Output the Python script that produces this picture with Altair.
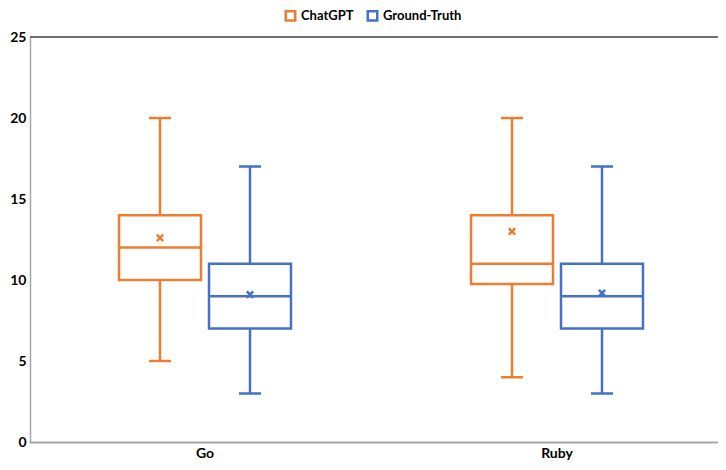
import altair as alt
import pandas as pd

languages = ["Go", "Go", "Ruby", "Ruby"]
models = ["ChatGPT", "Ground-Truth", "ChatGPT", "Ground-Truth"]
mins = [5, 3, 4, 3]
q1s = [10, 7, 9.75, 7]
medians = [12, 9, 11, 9]
q3s = [14, 11, 14, 11]
maxs = [20, 17, 20, 17]
means = [12.6, 9.1, 13.0, 9.2]

df = pd.DataFrame({
    "lang": languages, "model": models, "min": mins, "q1": q1s,
    "median": medians, "q3": q3s, "max": maxs, "mean": means,
})

colors = ["#ED7D31", "#4472C4"]
FONT = "Lato"

x = alt.X("lang:N", title=None,
          scale=alt.Scale(paddingInner=0, paddingOuter=0, range=[-1, 703]),
          axis=alt.Axis(labelAngle=0, ticks=False, domainColor="#A6A6A6",
                        domainWidth=2, labelFont=FONT, labelFontWeight="bold",
                        labelFontSize=14, labelColor="#000", labelPadding=4))
xo = alt.XOffset("model:N", scale=alt.Scale(paddingInner=0.0889, paddingOuter=1.0))
yscale = alt.Scale(domain=[0, 25], nice=False)
col = alt.Color(
    "model:N",
    scale=alt.Scale(domain=["ChatGPT", "Ground-Truth"], range=colors),
    legend=alt.Legend(
        title=None, orient="none", direction="horizontal",
        legendX=254, legendY=-28, symbolType="square",
        symbolSize=90, symbolStrokeWidth=2.5, symbolFillColor="white",
        labelFont=FONT, labelFontWeight="bold", labelFontSize=13,
        labelColor="#000", columnPadding=8,
    ),
)

base = alt.Chart(df)

yaxis = alt.Axis(values=[0, 5, 10, 15, 20, 25], ticks=False, grid=False, domainColor="#A6A6A6",
                 domainWidth=1.5, labelFont=FONT, labelFontWeight="bold", labelFontSize=14,
                 labelColor="#000", labelPadding=4)

lower = base.mark_rule(strokeWidth=2.5).encode(
    x=x, xOffset=xo, y=alt.Y("min:Q", scale=yscale, axis=yaxis, title=None), y2="q1:Q", color=col)
upper = base.mark_rule(strokeWidth=2.5).encode(
    x=x, xOffset=xo, y=alt.Y("q3:Q"), y2="max:Q", color=col)
box = base.mark_bar(filled=False, strokeWidth=2.5).encode(
    x=x, xOffset=xo, y="q1:Q", y2="q3:Q", color=col)
med = base.mark_bar(filled=False, strokeWidth=2.5).encode(
    x=x, xOffset=xo, y="median:Q", y2="median:Q", color=col)
capl = base.mark_bar(filled=False, strokeWidth=2.5, width=22).encode(
    x=x, xOffset=xo, y="min:Q", y2="min:Q", color=col)
caph = base.mark_bar(filled=False, strokeWidth=2.5, width=22).encode(
    x=x, xOffset=xo, y="max:Q", y2="max:Q", color=col)
meanpt = base.mark_point(shape="M-1,-1L1,1M1,-1L-1,1", size=40, filled=False,
                         strokeWidth=2.5, opacity=1).encode(
    x=x, xOffset=xo, y="mean:Q", color=col)
top = alt.Chart(pd.DataFrame({"v": [25]})).mark_rule(color="#404040", strokeWidth=1.3).encode(y="v:Q")

chart = alt.layer(box, lower, upper, med, capl, caph, meanpt, top).properties(
    width=688, height=405,
    autosize=alt.AutoSizeParams(type="none"),
    padding={"left": 22, "top": 29, "right": 0, "bottom": 20},
).configure_view(stroke=None)

chart.save("out.html", embed_options={"renderer": "svg", "actions": False})
